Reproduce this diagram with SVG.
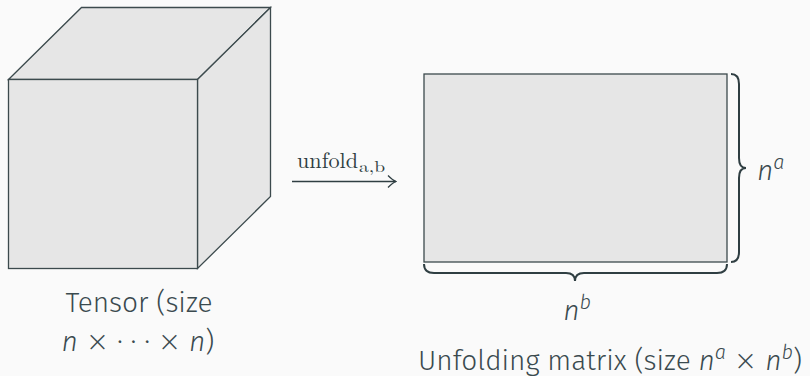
<svg xmlns="http://www.w3.org/2000/svg" width="810" height="376" viewBox="0 0 810 376">
<style>
.face{fill:#e6e6e6;stroke:#3c4a4d;stroke-width:1.3;stroke-linejoin:miter}
.ln{fill:none;stroke:#2f3e42;stroke-width:1.3}
.br{fill:none;stroke:#2f3e42;stroke-width:2}
.t{font-family:"Fira Sans","Noto Sans","Open Sans",sans-serif;font-size:28px;font-weight:300;fill:#3a4a4f}
.i{font-style:italic}
.x{font-family:"DejaVu Sans",sans-serif;font-weight:300}
.cm{font-family:"Latin Modern Roman","CMU Serif","Liberation Serif",serif;fill:#2f3e42}
</style>
<defs>
<marker id="ah" markerWidth="10" markerHeight="14" refX="9" refY="7" orient="auto" markerUnits="userSpaceOnUse">
<path d="M1,1 Q6,6 9,7 Q6,8 1,13" fill="none" stroke="#2f3e42" stroke-width="1.3"/>
</marker>
</defs>
<rect width="810" height="376" fill="#fafafa"/>
<g id="tensor">
<polygon class="face" points="8.5,79.5 81.5,7.5 270.5,7.5 197.5,79.5"/>
<polygon class="face" points="197.5,79.5 270.5,7.5 270.5,196.5 197.5,268.5"/>
<rect class="face" x="8.5" y="79.5" width="189" height="189"/>
<text class="t" x="139" y="312" text-anchor="middle">Tensor (size</text>
<text class="t" x="138" y="351" text-anchor="middle"><tspan class="i">n</tspan> <tspan class="x">×</tspan> · · · <tspan class="x">×</tspan> <tspan class="i">n</tspan>)</text>
</g>
<g id="matrix">
<rect class="face" x="424" y="74" width="303" height="188"/>
<text class="t" x="757" y="180"><tspan class="i">n</tspan><tspan class="i" font-size="20" dy="-11">a</tspan></text>
<text class="t" x="577" y="320" text-anchor="middle"><tspan class="i">n</tspan><tspan class="i" font-size="20" dy="-11">b</tspan></text>
<text class="t" x="610" y="370" text-anchor="middle">Unfolding matrix (size <tspan class="i">n</tspan><tspan class="i" font-size="20" dy="-11">a</tspan><tspan dy="11"> </tspan><tspan class="x">×</tspan> <tspan class="i">n</tspan><tspan class="i" font-size="20" dy="-11">b</tspan><tspan dy="11">)</tspan></text>
</g>
<g id="connectors">
<path class="br" d="M731,74 Q739,74 739,84 L739,158 Q739,168 746,168 Q739,168 739,178 L739,252 Q739,262 731,262"/>
<path class="br" d="M424,264 Q424,273 434,273 L566,273 Q575,273 575,281 Q575,273 584,273 L717,273 Q727,273 727,264"/>
<line class="ln" x1="292" y1="181.5" x2="396" y2="181.5" marker-end="url(#ah)"/>
<text class="cm" x="297" y="168" font-size="22" textLength="61" lengthAdjust="spacingAndGlyphs">unfold</text>
<text class="cm" x="359" y="172" font-size="16" textLength="26" lengthAdjust="spacingAndGlyphs">a,b</text>
</g>
</svg>
